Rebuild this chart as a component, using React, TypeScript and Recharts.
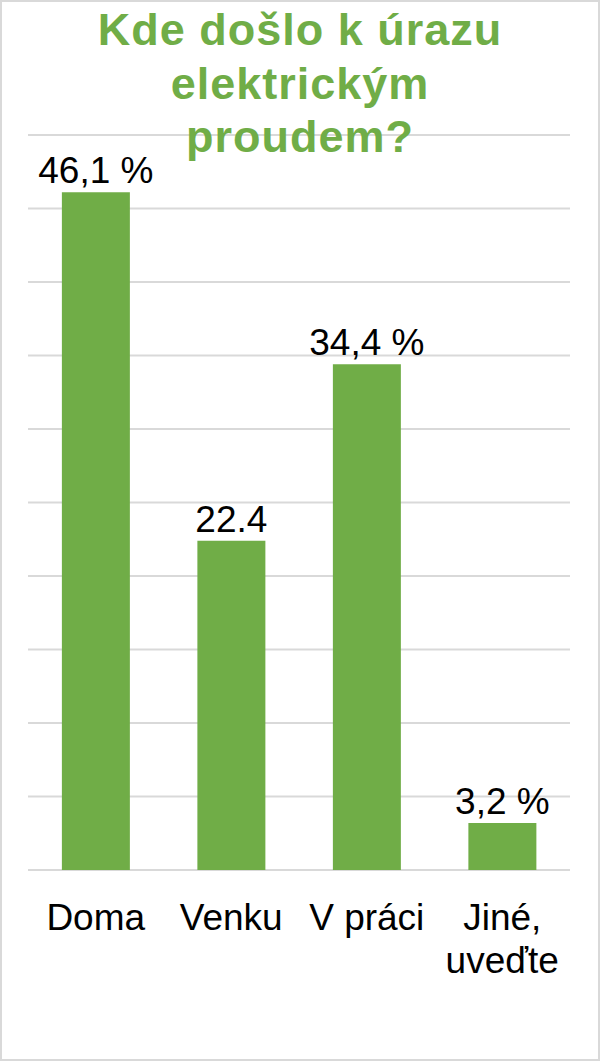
import React from 'react';
import {
  BarChart,
  Bar,
  XAxis,
  YAxis,
  CartesianGrid,
  LabelList,
} from 'recharts';

const categories = ['Doma', 'Venku', 'V práci', 'Jiné, uveďte'];
const values = [46.1, 22.4, 34.4, 3.2];
const valueLabels = ['46,1 %', '22.4', '34,4 %', '3,2 %'];
const yTicks = [0, 5, 10, 15, 20, 25, 30, 35, 40, 45, 50];
const titleLines = ['Kde došlo k úrazu', 'elektrickým', 'proudem?'];

const GREEN = '#70AD47';
const FONT = '"Liberation Sans", Arial, sans-serif';

const data = categories.map((name, i) => ({
  name,
  value: values[i],
  label: valueLabels[i],
}));

// splits "Jiné, uveďte" into two lines like the original axis
const CategoryTick = (props: any) => {
  const { x, y, payload } = props;
  const text: string = payload.value;
  const lines = text.includes(', ')
    ? text.split(', ').map((s, i, arr) => (i < arr.length - 1 ? s + ',' : s))
    : [text];
  return (
    <text
      x={x}
      y={y}
      textAnchor="middle"
      fontFamily={FONT}
      fontSize={37}
      fill="#000"
    >
      {lines.map((line, i) => (
        <tspan key={i} x={x} dy={i === 0 ? 52 : 43}>
          {line}
        </tspan>
      ))}
    </text>
  );
};

const App: React.FC = () => {
  return (
    <div
      style={{
        position: 'absolute',
        left: 0,
        top: 0,
        width: 600,
        height: 1061,
        background: '#fff',
        boxSizing: 'border-box',
        border: '2px solid #d9d9d9',
        fontFamily: FONT,
      }}
    >
      <BarChart
        width={596}
        height={1057}
        data={data}
        margin={{ top: 133, right: 28, left: 26, bottom: 0 }}
        barCategoryGap="25%"
        style={{ position: 'absolute', left: 0, top: 0 }}
      >
        <CartesianGrid vertical={false} stroke="#d9d9d9" strokeWidth={2} />
        <YAxis hide domain={[0, 50]} ticks={yTicks} />
        <XAxis
          dataKey="name"
          axisLine={false}
          tickLine={false}
          height={189}
          interval={0}
          tick={<CategoryTick />}
        />
        <Bar dataKey="value" fill={GREEN} isAnimationActive={false}>
          <LabelList
            dataKey="label"
            position="top"
            offset={9}
            fontSize={37}
            fontFamily={FONT}
            fill="#000"
          />
        </Bar>
      </BarChart>
      <div
        style={{
          position: 'absolute',
          left: 0,
          top: 1,
          width: 596,
          textAlign: 'center',
          color: GREEN,
          fontWeight: 'bold',
          fontSize: 45,
          letterSpacing: 1,
          lineHeight: '53.5px',
        }}
      >
        {titleLines.map((line) => (
          <div key={line}>{line}</div>
        ))}
      </div>
    </div>
  );
};

export default App;
